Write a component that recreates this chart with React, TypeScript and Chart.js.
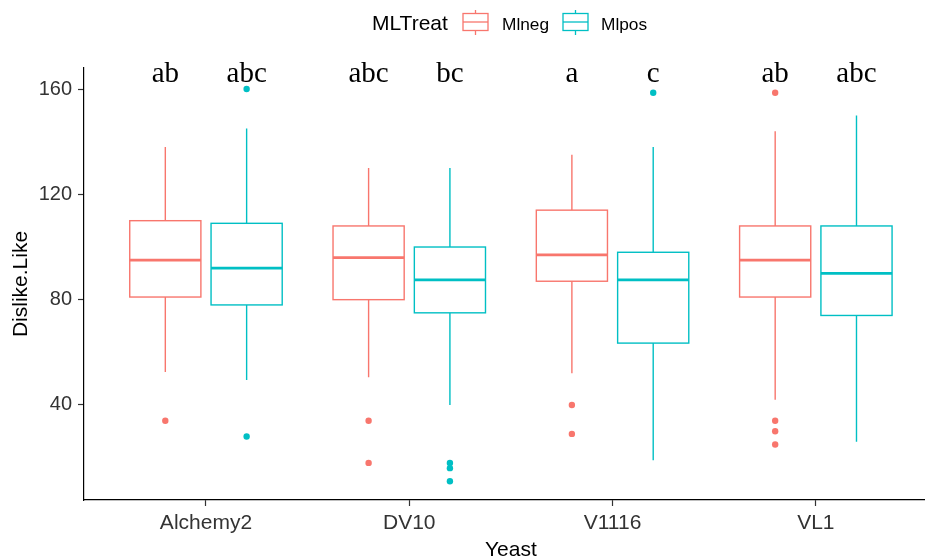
import { useEffect, useRef } from 'react';
import { Chart, registerables } from 'chart.js';

Chart.register(...registerables);

// ---- data ----
const categories = ['Alchemy2', 'DV10', 'V1116', 'VL1'];
const treatments = ['Mlneg', 'Mlpos'];
const yTickValues = [40, 80, 120, 160];

const mlnegWhiskerLow = [52.5, 50.5, 52, 42];
const mlnegQ1 = [81, 80, 87, 81];
const mlnegMedian = [95, 96, 97, 95];
const mlnegQ3 = [110, 108, 114, 108];
const mlnegWhiskerHigh = [138, 130, 135, 144];
const mlnegOutliers = [[34], [34, 18], [40, 29], [158.6, 34, 30, 25]];
const mlnegLetters = ['ab', 'abc', 'a', 'ab'];

const mlposWhiskerLow = [49.5, 40, 19, 26];
const mlposQ1 = [78, 75, 63.5, 74];
const mlposMedian = [92, 87.5, 87.5, 90];
const mlposQ3 = [109, 100, 98, 108];
const mlposWhiskerHigh = [145, 130, 138, 150];
const mlposOutliers = [[160, 28], [18, 16, 11], [158.6], []];
const mlposLetters = ['abc', 'bc', 'c', 'abc'];

const letterLevel = 162.7;

// ---- styling ----
const COLORS = ['#F8766D', '#00BFC4'];
const DODGE = [-0.2, 0.2];
const HALF_BOX = 0.175;
const SANS = '"Liberation Sans", Arial, sans-serif';
const SERIF = '"Liberation Serif", "Times New Roman", serif';

const stats = [
  { lo: mlnegWhiskerLow, q1: mlnegQ1, med: mlnegMedian, q3: mlnegQ3, hi: mlnegWhiskerHigh, out: mlnegOutliers, letters: mlnegLetters },
  { lo: mlposWhiskerLow, q1: mlposQ1, med: mlposMedian, q3: mlposQ3, hi: mlposWhiskerHigh, out: mlposOutliers, letters: mlposLetters },
];

const boxPlugin = {
  id: 'boxes',
  beforeDatasetsDraw(chart: any) {
    const { ctx, scales } = chart;
    const xs = scales.x;
    const ys = scales.y;
    ctx.save();
    stats.forEach((s, t) => {
      categories.forEach((_, i) => {
        const xc = i + 1 + DODGE[t];
        const cx = xs.getPixelForValue(xc);
        const l = xs.getPixelForValue(xc - HALF_BOX);
        const r = xs.getPixelForValue(xc + HALF_BOX);
        const yq1 = ys.getPixelForValue(s.q1[i]);
        const yq3 = ys.getPixelForValue(s.q3[i]);
        const ymed = ys.getPixelForValue(s.med[i]);
        const ylo = ys.getPixelForValue(s.lo[i]);
        const yhi = ys.getPixelForValue(s.hi[i]);
        ctx.strokeStyle = COLORS[t];
        ctx.lineWidth = 1.4;
        ctx.beginPath();
        ctx.moveTo(cx, yq3);
        ctx.lineTo(cx, yhi);
        ctx.moveTo(cx, yq1);
        ctx.lineTo(cx, ylo);
        ctx.stroke();
        ctx.fillStyle = '#ffffff';
        ctx.fillRect(l, yq3, r - l, yq1 - yq3);
        ctx.strokeRect(l, yq3, r - l, yq1 - yq3);
        ctx.lineWidth = 2.8;
        ctx.beginPath();
        ctx.moveTo(l, ymed);
        ctx.lineTo(r, ymed);
        ctx.stroke();
      });
    });
    ctx.restore();
  },
  afterDraw(chart: any) {
    const { ctx, scales, chartArea } = chart;
    const xs = scales.x;
    const ys = scales.y;
    ctx.save();
    // letters
    ctx.fillStyle = '#000';
    ctx.font = `29px ${SERIF}`;
    ctx.textAlign = 'center';
    ctx.textBaseline = 'alphabetic';
    stats.forEach((s, t) => {
      categories.forEach((_, i) => {
        const cx = xs.getPixelForValue(i + 1 + DODGE[t]);
        ctx.fillText(s.letters[i], cx, ys.getPixelForValue(letterLevel));
      });
    });
    // axis titles
    ctx.fillStyle = '#000';
    ctx.font = `21px ${SANS}`;
    ctx.textAlign = 'center';
    ctx.fillText('Yeast', xs.getPixelForValue(2.5), 556);
    ctx.save();
    ctx.translate(27, (chartArea.top + chartArea.bottom) / 2);
    ctx.rotate(-Math.PI / 2);
    ctx.fillText('Dislike.Like', 0, 0);
    ctx.restore();
    // legend
    ctx.textAlign = 'left';
    ctx.font = `21px ${SANS}`;
    ctx.fillText('MLTreat', 372, 30);
    const glyphX = [463, 563];
    const labelX = [502, 601];
    treatments.forEach((name, t) => {
      const gx = glyphX[t];
      const w = 25;
      ctx.strokeStyle = COLORS[t];
      ctx.lineWidth = 1.3;
      ctx.beginPath();
      ctx.moveTo(gx + w / 2, 10);
      ctx.lineTo(gx + w / 2, 13.5);
      ctx.moveTo(gx + w / 2, 30.5);
      ctx.lineTo(gx + w / 2, 35);
      ctx.stroke();
      ctx.strokeRect(gx, 13.5, w, 17);
      ctx.beginPath();
      ctx.moveTo(gx, 22);
      ctx.lineTo(gx + w, 22);
      ctx.stroke();
      ctx.fillStyle = '#000';
      ctx.font = `17.3px ${SANS}`;
      ctx.fillText(name, labelX[t], 30);
    });
    ctx.restore();
  },
};

export default function App() {
  const ref = useRef<HTMLCanvasElement>(null);
  useEffect(() => {
    document.body.style.margin = '0';
    const canvas = ref.current;
    if (!canvas) return;
    const datasets = stats.map((s, t) => ({
      label: treatments[t],
      data: categories.flatMap((_, i) => s.out[i].map((v) => ({ x: i + 1 + DODGE[t], y: v }))),
      backgroundColor: COLORS[t],
      borderWidth: 0,
      pointRadius: 3.2,
    }));
    const chart = new Chart(canvas, {
      type: 'scatter',
      data: { datasets },
      options: {
        animation: false,
        responsive: false,
        layout: { autoPadding: false, padding: { top: 68, left: 0, right: 0, bottom: 0 } },
        plugins: { legend: { display: false }, tooltip: { enabled: false } },
        scales: {
          x: {
            type: 'linear',
            min: 0.4,
            max: 4.537,
            afterBuildTicks: (s: any) => {
              s.ticks = categories.map((_, i) => ({ value: i + 1 }));
            },
            afterFit: (s: any) => {
              s.height = 56;
              s.paddingLeft = 0;
              s.paddingRight = 0;
            },
            ticks: {
              callback: (v: any) => categories[Number(v) - 1] ?? '',
              font: { family: SANS, size: 21 },
              color: '#333',
              padding: 5,
              maxRotation: 0,
              autoSkip: false,
            },
            grid: { drawOnChartArea: false, drawTicks: true, tickLength: 6, tickColor: '#333', tickWidth: 1.2 },
            border: { display: true, color: '#000', width: 1.2 },
          },
          y: {
            min: 3.9,
            max: 168,
            afterBuildTicks: (s: any) => {
              s.ticks = yTickValues.map((v) => ({ value: v }));
            },
            afterFit: (s: any) => {
              s.width = 84;
            },
            ticks: {
              font: { family: SANS, size: 20 },
              color: '#333',
              padding: 6,
            },
            grid: { drawOnChartArea: false, drawTicks: true, tickLength: 6, tickColor: '#333', tickWidth: 1.2 },
            border: { display: true, color: '#000', width: 1.2 },
          },
        },
      },
      plugins: [boxPlugin],
    });
    return () => chart.destroy();
  }, []);
  return <canvas ref={ref} width={925} height={556} style={{ display: 'block' }} />;
}
